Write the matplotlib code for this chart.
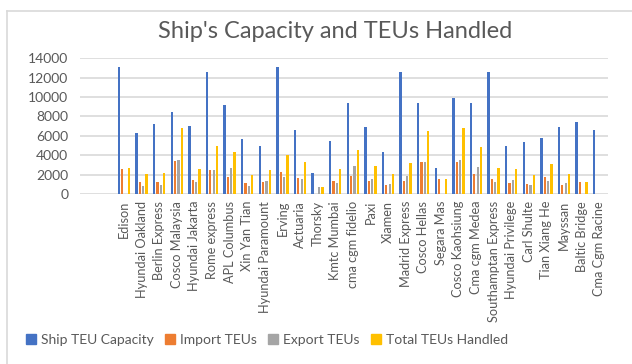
import numpy as np
import matplotlib
matplotlib.use("Agg")
import matplotlib.pyplot as plt
from matplotlib.lines import Line2D

plt.rcParams['font.family'] = ['Lato', 'DejaVu Sans']

ships = ["Edison", "Hyundai Oakland", "Berlin Express", "Cosco Malaysia",
         "Hyundai Jakarta", "Rome express", "APL Columbus", "Xin Yan Tian",
         "Hyundai Paramount", "Erving", "Actuaria", "Thorsky", "Kmtc Mumbai",
         "cma cgm fidelio", "Paxi", "Xiamen", "Madrid Express", "Cosco Hellas",
         "Segara Mas", "Cosco Kaohsiung", "Cma cgm Medea", "Southamptan Express",
         "Hyundai Privilege", "Carl Shulte", "Tian Xiang He", "Mayssan",
         "Baltic Bridge", "Cma Cgm Racine"]

capacity = [13070, 6340, 7200, 8500, 7000, 12620, 9190, 5660, 5000, 13070,
            6620, 2160, 5490, 9430, 6930, 4320, 12620, 9370, 2680, 9940,
            9430, 12620, 5000, 5380, 5790, 6930, 7440, 6620]
imports = [2570, 1200, 1200, 3360, 1400, 2500, 1710, 1090, 1200, 2220,
           1680, 0, 1370, 1880, 1370, 960, 1370, 3320, 1575, 3320,
           2060, 1575, 1160, 1060, 1780, 885, 1230, 0]
exports = [0, 820, 960, 3500, 1230, 2500, 2640, 780, 1300, 1750,
           1540, 720, 1160, 2910, 1575, 1030, 1880, 3320, 0, 3460,
           2810, 1200, 1440, 885, 1300, 1160, 0, 0]
totals = [2640, 2020, 2120, 6820, 2530, 5000, 4350, 1920, 2500, 4050,
          3290, 720, 2530, 4590, 2940, 2020, 3220, 6510, 1575, 6820,
          4800, 2680, 2530, 1950, 3120, 2020, 1230, 0]

series = ["Ship TEU Capacity", "Import TEUs", "Export TEUs", "Total TEUs Handled"]
colors = ["#4472C4", "#ED7D31", "#A5A5A5", "#FFC000"]

fig = plt.figure(figsize=(6.32, 3.64), dpi=100)
ax = fig.add_axes([80/632, 1-194/364, 528/632, (194-58.3)/364])

x = np.arange(len(ships))
step = 0.19
w = 0.13
for i, vals in enumerate([capacity, imports, exports, totals]):
    ax.bar(x + (i - 1.5)*step, vals, width=w, color=colors[i], zorder=3)

ax.set_xlim(-2.5, len(ships) - 0.5)
ax.set_ylim(0, 14000)
ax.set_yticks(range(0, 14001, 2000))
ax.yaxis.grid(True, color="#d9d9d9", linewidth=1.2, zorder=0)
ax.set_xticks(x)
ax.set_xticklabels(ships, rotation=90, fontsize=9.2, color="#595959")
ax.tick_params(axis='y', labelsize=10, colors="#595959", length=0, pad=8.5)
ax.tick_params(axis='x', length=0, pad=5)
for s in ax.spines.values():
    s.set_visible(False)

fig.text(335/632, 1-31/364, "Ship's Capacity and TEUs Handled", ha="center",
         va="center", fontsize=17, color="#595959")

handles = [Line2D([], [], marker="s", linestyle="none", markersize=7,
                  color=c) for c in colors]
fig.legend(handles, series, loc="center", bbox_to_anchor=(266/632, 1-340/364),
           ncol=4, frameon=False, fontsize=10, handletextpad=0.2,
           columnspacing=0.7, labelcolor="#595959", handlelength=1.0)

# outer chart frame (clipped on right and bottom like the screenshot)
fig.add_artist(Line2D([7/632, 7/632], [0, 1-11/364], color="#d9d9d9",
                      linewidth=1.2, transform=fig.transFigure))
fig.add_artist(Line2D([7/632, 1], [1-11/364, 1-11/364], color="#d9d9d9",
                      linewidth=1.2, transform=fig.transFigure))

fig.savefig("out.png", dpi=100)
